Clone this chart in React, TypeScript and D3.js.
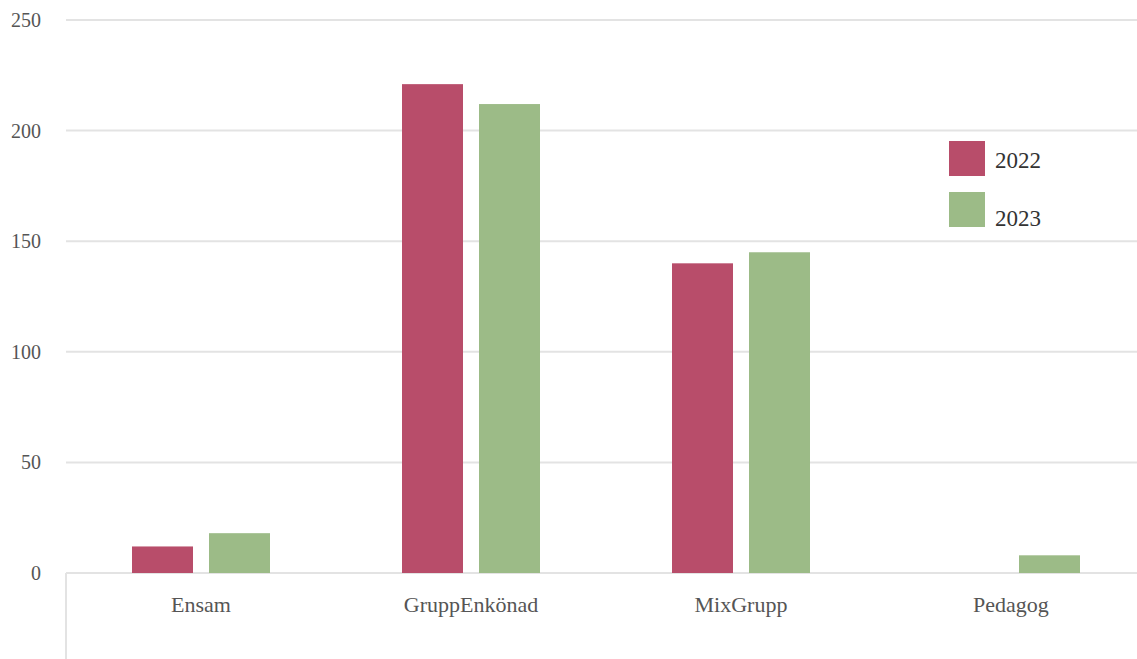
import React from "react";
import * as d3 from "d3";

const categories = ["Ensam", "GruppEnkönad", "MixGrupp", "Pedagog"];
const seriesNames = ["2022", "2023"];
const values2022 = [12, 221, 140, 0];
const values2023 = [18, 212, 145, 8];
const yTicks = [0, 50, 100, 150, 200, 250];
const colors = ["#b84d6a", "#9cbb87"];

const W = 1137;
const H = 659;

export default function App() {
  const x = d3.scaleBand<string>().domain(categories).range([66, 1146]);
  const y = d3.scaleLinear().domain([0, 250]).range([573, 20]);
  const series = [values2022, values2023];
  const barW = 61;
  const gap = 16;
  const font = "'Liberation Serif', 'DejaVu Serif', serif";
  // legend swatches and their label baselines
  const legendBoxY = [141, 192];
  const legendTextY = [160, 218];

  return (
    <svg width={W} height={H} style={{ position: "absolute", left: 0, top: 0, background: "#fff" }}>
      {yTicks.map((t) => (
        <g key={t}>
          <line x1={66} x2={W} y1={y(t)} y2={y(t)} stroke="#e3e3e3" strokeWidth={2} />
          <text x={41} y={y(t)} dy="0.35em" textAnchor="end" fontFamily={font} fontSize={20} fill="#555">
            {t}
          </text>
        </g>
      ))}
      <line x1={66} x2={66} y1={573} y2={H} stroke="#e3e3e3" strokeWidth={2} />
      {categories.map((c, i) => {
        const cx = (x(c) as number) + x.bandwidth() / 2;
        return (
          <g key={c}>
            {series.map((vals, s) => {
              const bx = s === 0 ? cx - gap / 2 - barW : cx + gap / 2;
              const v = vals[i];
              if (v <= 0) return null;
              return (
                <rect key={s} x={bx} y={y(v)} width={barW} height={y(0) - y(v)} fill={colors[s]} />
              );
            })}
            <text x={cx} y={612} textAnchor="middle" fontFamily={font} fontSize={22} fill="#555">
              {c}
            </text>
          </g>
        );
      })}
      {seriesNames.map((n, s) => (
        <g key={n}>
          <rect x={949} y={legendBoxY[s]} width={36} height={35} fill={colors[s]} />
          <text x={995} y={legendTextY[s]} dy="0.35em" fontFamily={font} fontSize={23} fill="#333">
            {n}
          </text>
        </g>
      ))}
    </svg>
  );
}
